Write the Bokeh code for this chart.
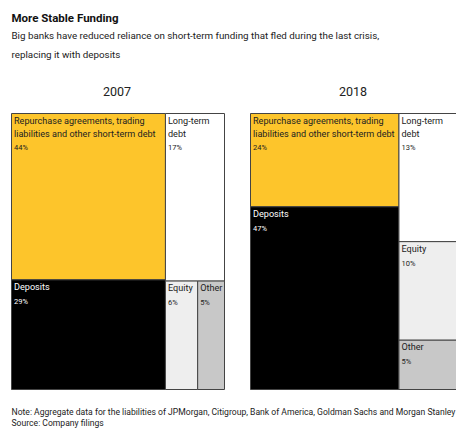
from bokeh.plotting import figure
from bokeh.models import Range1d, ColumnDataSource
from bokeh.embed import file_html
from bokeh.resources import INLINE
from bokeh.core.properties import value

W, H = 456, 428

# ---- data ----
categories = ["Repurchase agreements, trading\nliabilities and other short-term debt",
              "Deposits", "Long-term\ndebt", "Equity", "Other"]
colors = ["#FDC52B", "#000000", "#FFFFFF", "#EEEEEE", "#C8C8C8"]
text_colors = ["#222222", "#FFFFFF", "#222222", "#222222", "#222222"]
values_2007 = [44, 29, 17, 6, 5]
values_2018 = [24, 47, 13, 10, 5]
years = ["2007", "2018"]

# nested layout structures (indices into categories)
tree_2007 = [[0, 1], [2, [3, 4]]]
tree_2018 = [[0, 1], [2, 3, 4]]

FONT = "Roboto"


def total(node, vals):
    if isinstance(node, list):
        return sum(total(n, vals) for n in node)
    return vals[node]


def layout(node, vals, x0, y0, x1, y1, horiz, out):
    if not isinstance(node, list):
        out[node] = (x0, y0, x1, y1)
        return
    t = total(node, vals)
    pos = x0 if horiz else y0
    span = (x1 - x0) if horiz else (y1 - y0)
    for child in node:
        f = total(child, vals) / t
        if horiz:
            layout(child, vals, pos, y0, pos + f * span, y1, False, out)
        else:
            layout(child, vals, x0, pos, x1, pos + f * span, True, out)
        pos += f * span


p = figure(width=W, height=H, x_range=Range1d(0, W), y_range=Range1d(H, 0),
           output_backend="svg", toolbar_location=None, min_border=0)
p.axis.visible = False
p.grid.visible = False
p.outline_line_color = None
p.background_fill_color = "#FFFFFF"

panels = [(values_2007, tree_2007, 11, 224), (values_2018, tree_2018, 250, 457)]
TOP, BOTTOM = 113, 389

for (vals, tree, px0, px1), yr in zip(panels, years):
    out = {}
    layout(tree, vals, px0, TOP, px1, BOTTOM, True, out)
    idx = sorted(out)
    src = ColumnDataSource(dict(
        left=[out[i][0] for i in idx], right=[out[i][2] for i in idx],
        top=[out[i][1] for i in idx], bottom=[out[i][3] for i in idx],
        color=[colors[i] for i in idx]))
    p.quad(left="left", right="right", top="top", bottom="bottom", source=src,
           fill_color="color", line_color="#444444", line_width=1)
    p.text(x=[out[i][0] + 2.5 for i in idx], y=[out[i][1] + 2 for i in idx],
           text=[categories[i] for i in idx],
           text_color=[text_colors[i] for i in idx],
           text_font=value(FONT), text_font_size="9.1px",
           text_baseline="top", text_align="left", text_line_height=1.35)
    nlines = [categories[i].count("\n") + 1 for i in idx]
    p.text(x=[out[i][0] + 2.5 for i in idx],
           y=[out[i][1] + 17 + 12 * (n - 1) for i, n in zip(idx, nlines)],
           text=[f"{vals[i]}%" for i in idx],
           text_color=[text_colors[i] for i in idx],
           text_font=value(FONT), text_font_size="7.5px",
           text_baseline="top", text_align="left")
    p.text(x=[(px0 + px1) / 2 - 1], y=[86], text=[yr], text_font=value(FONT),
           text_font_size="12.5px", text_baseline="top", text_align="center",
           text_color="#222222")

p.text(x=[11], y=[10], text=["More Stable Funding"], text_font=value(FONT),
       text_font_size="11.5px", text_font_style="bold", text_baseline="top",
       text_color="#111111")
p.text(x=[11], y=[29], text=["Big banks have reduced reliance on short-term funding that fled during the last crisis,\nreplacing it with deposits"],
       text_font=value(FONT), text_font_size="9.8px", text_baseline="top",
       text_line_height=1.75, text_color="#222222")
p.text(x=[11], y=[406], text=["Note: Aggregate data for the liabilities of JPMorgan, Citigroup, Bank of America, Goldman Sachs and Morgan Stanley\nSource: Company filings"],
       text_font=value(FONT), text_font_size="8.6px", text_baseline="top",
       text_line_height=1.1, text_color="#222222")

open("out.html", "w").write(file_html(p, INLINE))
